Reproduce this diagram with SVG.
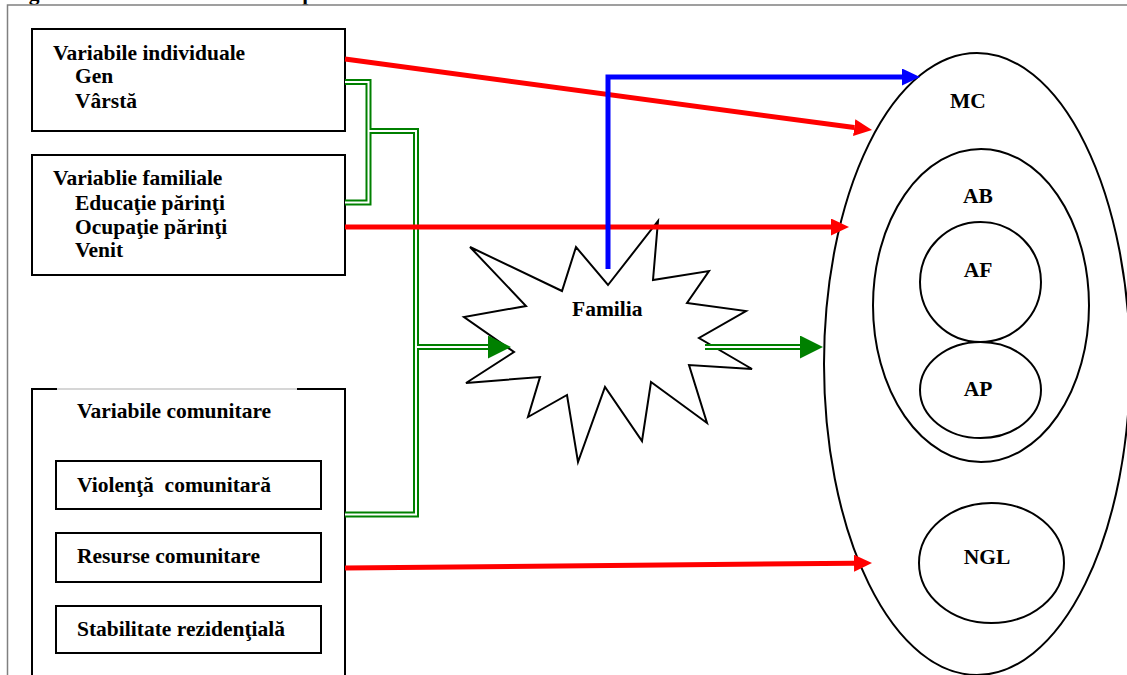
<svg xmlns="http://www.w3.org/2000/svg" width="1127" height="675" viewBox="0 0 1127 675">
<style>
  text { font-family: "Liberation Serif", "Times New Roman", serif; font-weight: bold; font-size: 21.5px; fill: #000; white-space: pre; }
  .mid { text-anchor: middle; }
  .box { fill: #fff; stroke: #000; stroke-width: 2; }
  .shape { fill: none; stroke: #000; stroke-width: 2; }
  .red { fill: none; stroke: #ff0000; stroke-width: 5; }
  .blue { fill: none; stroke: #0000ff; stroke-width: 5; }
  .gOut { fill: none; stroke: #008000; stroke-width: 6; }
  .gIn { fill: none; stroke: #fff; stroke-width: 2; }
</style>
<defs>
  <marker id="arRed" markerUnits="userSpaceOnUse" markerWidth="18" markerHeight="17" refX="0" refY="8.5" orient="auto">
    <path d="M0,0 L18,8.5 L0,17 z" fill="#ff0000"/>
  </marker>
  <marker id="arBlue" markerUnits="userSpaceOnUse" markerWidth="18" markerHeight="17" refX="0" refY="8.5" orient="auto">
    <path d="M0,0 L18,8.5 L0,17 z" fill="#0000ff"/>
  </marker>
  <marker id="arGreen" markerUnits="userSpaceOnUse" markerWidth="23" markerHeight="23" refX="0" refY="11.5" orient="auto">
    <path d="M0,0 L23,11.5 L0,23 z" fill="#008000"/>
  </marker>
</defs>
<rect width="1127" height="675" fill="#fff"/>

<g id="title">
  <text x="10" y="0" font-size="23" textLength="350">Figura 1 Schema teoretică conceptuală</text>
</g>
<g id="frame">
  <path d="M7.5,675 V5 H1127" fill="none" stroke="#808080" stroke-width="1.5"/>
</g>

<g id="node-individuale">
  <rect class="box" x="32" y="29" width="313" height="102"/>
  <text x="53" y="60">Variabile individuale</text>
  <text x="75" y="83">Gen</text>
  <text x="75" y="108">Vârstă</text>
</g>

<g id="node-familiale">
  <rect class="box" x="32" y="155" width="313" height="120"/>
  <text x="53" y="185">Variablie familiale</text>
  <text x="75" y="210">Educaţie părinţi</text>
  <text x="75" y="234">Ocupaţie părinţi</text>
  <text x="75" y="257">Venit</text>
</g>

<g id="node-comunitare">
  <path d="M32,680 V389 M345,680 V389" class="shape"/>
  <path d="M31,389 H57 M297,389 H346" class="shape"/>
  <path d="M57,389 H297" fill="none" stroke="#c8c8c8" stroke-width="1.5"/>
  <text x="77" y="418">Variabile comunitare</text>
  <g id="node-violenta">
    <rect class="box" x="56" y="461" width="265" height="48"/>
    <text x="77" y="492">Violenţă  comunitară</text>
  </g>
  <g id="node-resurse">
    <rect class="box" x="56" y="533" width="265" height="49"/>
    <text x="77" y="563">Resurse comunitare</text>
  </g>
  <g id="node-stabilitate">
    <rect class="box" x="56" y="606" width="265" height="47"/>
    <text x="77" y="636">Stabilitate rezidenţială</text>
  </g>
</g>

<g id="node-familia">
  <polygon class="shape" fill="#fff" points="470,247 562,291 576,247 608,285 658,221 653,280 709,271 687,303 746,311 699,338 752,369 689,365 707,423 651,382 642,441 605,387 578,462 567,395 528,417 540,377 466,383 514,352 464,317 526,306"/>
  <text x="572" y="316">Familia</text>
</g>

<g id="node-MC">
  <ellipse class="shape" cx="977" cy="364" rx="153" ry="311"/>
  <text class="mid" x="968" y="108">MC</text>
</g>
<g id="node-AB">
  <ellipse class="shape" cx="981" cy="305.5" rx="108" ry="156.5"/>
  <text class="mid" x="978" y="203">AB</text>
</g>
<g id="node-AF">
  <ellipse class="shape" cx="980.5" cy="282" rx="60.5" ry="60"/>
  <text class="mid" x="978" y="277">AF</text>
</g>
<g id="node-AP">
  <ellipse class="shape" cx="980.5" cy="390" rx="60.5" ry="48"/>
  <text class="mid" x="978" y="396">AP</text>
</g>
<g id="node-NGL">
  <ellipse class="shape" cx="991.5" cy="563" rx="72.5" ry="60"/>
  <text class="mid" x="987" y="564">NGL</text>
</g>

<g id="connectors">
  <path class="gOut" d="M345,82 H368.5 V202.5 H345"/>
  <path class="gOut" d="M368.5,131 H416 V514.5 H345"/>
  <path class="gOut" d="M416,347 H488" marker-end="url(#arGreen)"/>
  <path class="gOut" d="M705,347 H800" marker-end="url(#arGreen)"/>
  <path class="gIn" d="M345,82 H368.5 V202.5 H345"/>
  <path class="gIn" d="M368.5,131 H416 V514.5 H345"/>
  <path class="gIn" d="M416,347 H488"/>
  <path class="gIn" d="M705,347 H800"/>
  <path class="red" d="M345,59 L854.2,127.6" marker-end="url(#arRed)"/>
  <path class="red" d="M345,227 H831" marker-end="url(#arRed)"/>
  <path class="red" d="M345,568 L854,563.2" marker-end="url(#arRed)"/>
  <path class="blue" d="M608,269 V77 H902" marker-end="url(#arBlue)"/>
</g>
</svg>
